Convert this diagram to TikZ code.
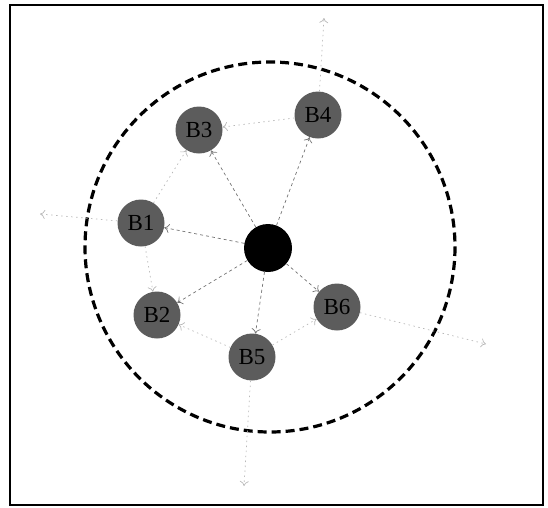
\documentclass[tikz,border=0pt]{standalone}
\usepackage{fontspec}
\setmainfont{Liberation Serif}
\usetikzlibrary{arrows.meta}
\begin{document}
\begin{tikzpicture}[x=1pt,y=-1pt,
  bnode/.style={circle,fill=black!64,draw=none,minimum size=47pt,inner sep=0pt,font=\fontsize{23}{23}\selectfont,text=black},
  cnode/.style={circle,fill=black,draw=none,minimum size=48pt,inner sep=0pt},
  mainedge/.style={draw=black!55,line width=0.7pt,dash pattern=on 3pt off 3pt,-{To[length=5pt,width=9pt]}},
  lightedge/.style={draw=black!28,line width=0.7pt,dash pattern=on 1.5pt off 3.5pt,-{To[length=5pt,width=9pt]}}]
\useasboundingbox (0,0) rectangle (548,507);
\draw[line width=2.5pt] (10,5) rectangle (543,505);
\draw[line width=3.2pt,dash pattern=on 9pt off 5pt] (270,247) circle (185);
\node[cnode] (c) at (268,248) {};
\node[bnode] (b1) at (141,223) {B1};
\node[bnode] (b2) at (157,315) {B2};
\node[bnode] (b3) at (199,130) {B3};
\node[bnode] (b4) at (318,115) {B4};
\node[bnode] (b5) at (252,357) {B5};
\node[bnode] (b6) at (337,307) {B6};
\coordinate (oL) at (40,214);
\coordinate (oT) at (324,18);
\coordinate (oR) at (486,344);
\coordinate (oB) at (244,486);
\draw[mainedge] (c) -- (b1);
\draw[mainedge] (c) -- (b2);
\draw[mainedge] (c) -- (b3);
\draw[mainedge] (c) -- (b4);
\draw[mainedge] (c) -- (b5);
\draw[mainedge] (c) -- (b6);
\draw[lightedge] (b4) -- (b3);
\draw[lightedge] (b1) -- (b3);
\draw[lightedge] (b1) -- (b2);
\draw[lightedge] (b5) -- (b2);
\draw[lightedge] (b5) -- (b6);
\draw[lightedge] (b1) -- (oL);
\draw[lightedge] (b4) -- (oT);
\draw[lightedge] (b6) -- (oR);
\draw[lightedge] (b5) -- (oB);
\end{tikzpicture}
\end{document}
